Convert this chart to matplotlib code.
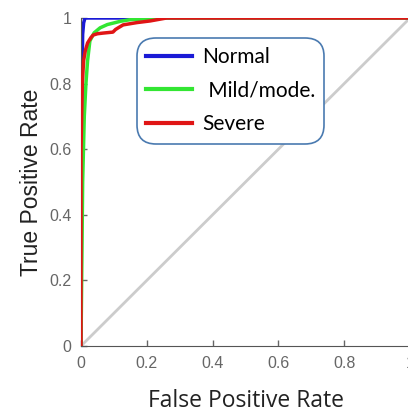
import matplotlib.pyplot as plt
from matplotlib.ticker import FormatStrFormatter

# ROC curves
fpr_normal = [0, 0.002, 0.003, 0.005, 0.008, 0.012, 0.04, 1]
tpr_normal = [0, 0.6, 0.8, 0.95, 0.985, 1, 1, 1]

fpr_mild = [0, 0.005, 0.01, 0.015, 0.02, 0.027, 0.04, 0.058, 0.08, 0.12, 0.15, 0.26, 1]
tpr_mild = [0, 0.5, 0.7, 0.8, 0.87, 0.93, 0.955, 0.97, 0.98, 0.99, 0.995, 1, 1]

fpr_severe = [0, 0, 0.004, 0.008, 0.013, 0.02, 0.03, 0.037, 0.05, 0.067, 0.097,
              0.105, 0.113, 0.128, 0.17, 0.21, 0.26, 1]
tpr_severe = [0, 0.6, 0.8, 0.87, 0.9, 0.924, 0.94, 0.948, 0.952, 0.954, 0.957,
              0.965, 0.97, 0.979, 0.986, 0.991, 1, 1]

labels = ["Normal", " Mild/mode.", "Severe"]
colors = ["#1a1ad6", "#33e633", "#e01515"]
ticks = [0, 0.2, 0.4, 0.6, 0.8, 1]

fig = plt.figure(figsize=(4.08, 4.15), dpi=100)
ax = fig.add_axes([81 / 408, 69 / 415, 329 / 408, 328 / 415])

ax.plot([0, 1], [0, 1], color="#cccccc", lw=2, zorder=1)
ax.plot(fpr_normal, tpr_normal, color=colors[0], lw=2.5, label=labels[0], zorder=2)
ax.plot(fpr_mild, tpr_mild, color=colors[1], lw=2.5, label=labels[1], zorder=3)
ax.plot(fpr_severe, tpr_severe, color=colors[2], lw=2.5, label=labels[2], zorder=4)

ax.set_xlim(0, 1)
ax.set_ylim(0, 1)
ax.set_xticks(ticks)
ax.set_yticks(ticks)
ax.xaxis.set_major_formatter(FormatStrFormatter("%g"))
ax.yaxis.set_major_formatter(FormatStrFormatter("%g"))
ax.tick_params(direction="in", length=4, width=1, colors="#666666",
               labelsize=11.5, pad=7)
for lab in ax.get_xticklabels() + ax.get_yticklabels():
    lab.set_family("Liberation Sans")

ax.spines["top"].set_visible(False)
ax.spines["right"].set_visible(False)
ax.spines["bottom"].set_color("#555555")
ax.spines["left"].set_color("#555555")

ax.set_xlabel("False Positive Rate", family="Open Sans", fontsize=16.5,
              labelpad=13, color="#222222")
ax.set_ylabel("True Positive Rate", family="Liberation Sans", fontsize=16.5,
              labelpad=4, color="#222222")

leg = ax.legend(loc="upper left", bbox_to_anchor=(0.17, 0.94),
                prop={"family": "Lato", "size": 15},
                handlelength=2.2, handletextpad=0.5, labelspacing=0.65,
                borderpad=0.45, borderaxespad=0, fancybox=True, framealpha=1,
                edgecolor="#4a7ab0")
leg.get_frame().set_linewidth(1.2)
leg.get_frame().set_boxstyle("round", pad=0, rounding_size=0.9)
for line in leg.get_lines():
    line.set_linewidth(3)

fig.savefig("out.png", dpi=100)
